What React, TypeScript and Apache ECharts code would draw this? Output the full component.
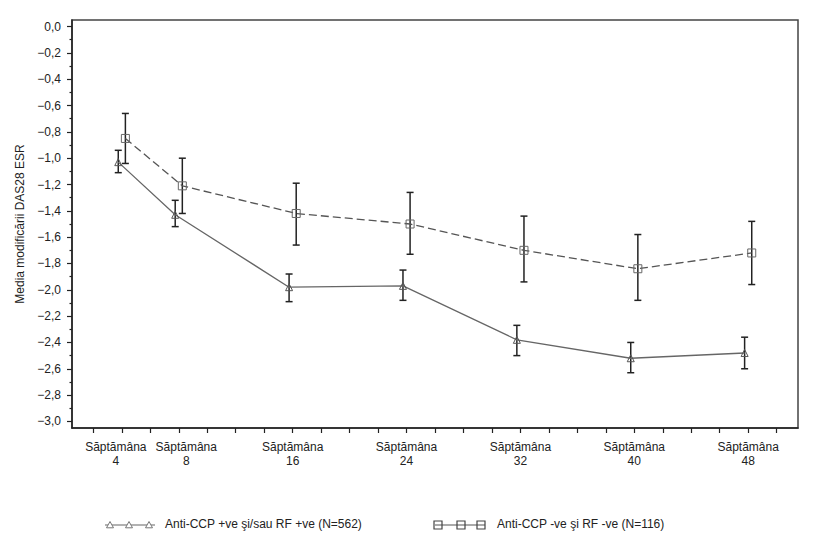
import React, { useEffect, useRef } from "react";
import * as echarts from "echarts";

const weeks = [4, 8, 16, 24, 32, 40, 48];
const labelWeeksA = [4, 16, 32, 48];
const labelWeeksB = [8, 24, 40];
const tickWeeks = [2, 4, 6, 8, 10, 12, 14, 16, 18, 20, 22, 24, 26, 28, 30, 32, 34, 36, 38, 40, 42, 44, 46, 48, 50];
const yMajor = [0, -0.2, -0.4, -0.6, -0.8, -1.0, -1.2, -1.4, -1.6, -1.8, -2.0, -2.2, -2.4, -2.6, -2.8, -3.0];
const yMinor = [-0.1, -0.3, -0.5, -0.7, -0.9, -1.1, -1.3, -1.5, -1.7, -1.9, -2.1, -2.3, -2.5, -2.7, -2.9];

const posName = "Anti-CCP +ve şi/sau RF +ve (N=562)";
const posMean = [-1.03, -1.43, -1.98, -1.97, -2.38, -2.52, -2.48];
const posLow = [-1.11, -1.52, -2.09, -2.08, -2.5, -2.63, -2.6];
const posHigh = [-0.94, -1.32, -1.88, -1.85, -2.27, -2.4, -2.36];

const negName = "Anti-CCP -ve şi RF -ve (N=116)";
const negMean = [-0.85, -1.21, -1.42, -1.5, -1.7, -1.84, -1.72];
const negLow = [-1.04, -1.42, -1.66, -1.73, -1.94, -2.08, -1.96];
const negHigh = [-0.66, -1.0, -1.19, -1.26, -1.44, -1.58, -1.48];

const posOffset = -0.25;
const negOffset = 0.25;

const FONT = 'Arial, "Liberation Sans", sans-serif';
const TXT = "#222";

function errorBarRender(params: any, api: any) {
  const x = api.value(0);
  const lo = api.value(1);
  const hi = api.value(2);
  const pHi = api.coord([x, hi]);
  const pLo = api.coord([x, lo]);
  const cap = 3.5;
  const style = { stroke: "#222", lineWidth: 1.5, fill: "none" };
  return {
    type: "group",
    children: [
      { type: "line", shape: { x1: pHi[0], y1: pHi[1], x2: pLo[0], y2: pLo[1] }, style },
      { type: "line", shape: { x1: pHi[0] - cap, y1: pHi[1], x2: pHi[0] + cap, y2: pHi[1] }, style },
      { type: "line", shape: { x1: pLo[0] - cap, y1: pLo[1], x2: pLo[0] + cap, y2: pLo[1] }, style },
    ],
  };
}

function triPoints(cx: number, cy: number, s: number) {
  return [
    [cx, cy - s],
    [cx - s, cy + s * 0.8],
    [cx + s, cy + s * 0.8],
  ];
}

const richBase = { color: TXT, fontSize: 12, fontFamily: FONT, lineHeight: 14 };
const xRich = {
  l: { ...richBase, padding: [0, 12, 0, 0] },
  r: { ...richBase, padding: [0, 0, 0, 15] },
  c: { ...richBase },
};
const xFmt = (v: number) => {
  const k = v === 4 ? "l" : v === 8 ? "r" : "c";
  return `{${k}|Săptămâna}\n{${k}|${v}}`;
};

export default function App() {
  const ref = useRef<HTMLDivElement>(null);

  useEffect(() => {
    document.body.style.margin = "0";
    if (!ref.current) return;
    const chart = echarts.init(ref.current, null, { renderer: "svg" });

    const posData = weeks.map((w, i) => [w + posOffset, posMean[i]]);
    const negData = weeks.map((w, i) => [w + negOffset, negMean[i]]);
    const posErr = weeks.map((w, i) => [w + posOffset, posLow[i], posHigh[i]]);
    const negErr = weeks.map((w, i) => [w + negOffset, negLow[i], negHigh[i]]);

    const legendY = 525;
    const graphic: any[] = [
      { type: "line", shape: { x1: 105, y1: legendY, x2: 155, y2: legendY }, style: { stroke: "#666", lineWidth: 1.2 } },
      ...[110, 129, 149].map((cx) => ({
        type: "polygon",
        shape: { points: triPoints(cx, legendY, 3.5) },
        style: { fill: "#fff", stroke: "#777", lineWidth: 1 },
      })),
      {
        type: "text",
        x: 165,
        y: legendY - 1,
        style: { text: posName, font: `12px ${FONT}`, fill: TXT, verticalAlign: "middle", textAlign: "left" },
      },
      { type: "line", shape: { x1: 435, y1: legendY, x2: 485, y2: legendY }, style: { stroke: "#555", lineWidth: 1.2 } },
      ...[438, 461, 481].map((cx) => ({
        type: "rect",
        shape: { x: cx - 4, y: legendY - 4, width: 8, height: 8 },
        style: { fill: "none", stroke: "#444", lineWidth: 1.2 },
      })),
      {
        type: "text",
        x: 497,
        y: legendY - 1,
        style: { text: negName, font: `12px ${FONT}`, fill: TXT, verticalAlign: "middle", textAlign: "left" },
      },
    ];

    const fmtY = (v: number) => {
      const s = Math.abs(v).toFixed(1).replace(".", ",");
      return v < -1e-9 ? "\u2212" + s : s;
    };

    const xLabelCommon = {
      formatter: xFmt,
      rich: xRich,
      color: TXT,
      fontSize: 12,
      fontFamily: FONT,
      lineHeight: 14,
      margin: 12,
      align: "center",
      hideOverlap: false,
      showMinLabel: true,
      showMaxLabel: true,
    };

    chart.setOption({
      animation: false,
      backgroundColor: "#fff",
      textStyle: { fontFamily: FONT },
      grid: {
        left: 72,
        top: 20,
        right: 20,
        bottom: 125,
        show: true,
        borderColor: "#444",
        borderWidth: 1.5,
        backgroundColor: "transparent",
      },
      xAxis: [
        {
          type: "value",
          min: 0.5,
          max: 51.5,
          position: "bottom",
          axisLine: { show: true, onZero: false, lineStyle: { color: "#222", width: 1.5 } },
          axisTick: { show: true, length: 5, customValues: tickWeeks, lineStyle: { color: "#222", width: 1.2 } },
          axisLabel: { ...xLabelCommon, customValues: labelWeeksA },
          splitLine: { show: false },
        },
        {
          type: "value",
          min: 0.5,
          max: 51.5,
          position: "bottom",
          offset: 0,
          axisLine: { show: false, onZero: false },
          axisTick: { show: false },
          axisLabel: { ...xLabelCommon, customValues: labelWeeksB },
          splitLine: { show: false },
        },
      ],
      yAxis: [
        {
          type: "value",
          min: -3.05,
          max: 0.05,
          axisLine: { show: true, onZero: false, lineStyle: { color: "#222", width: 1.5 } },
          axisTick: { show: true, length: 5, customValues: yMajor, lineStyle: { color: "#222", width: 1.2 } },
          axisLabel: {
            customValues: yMajor,
            formatter: fmtY,
            color: TXT,
            fontSize: 12,
            fontFamily: FONT,
            margin: 11,
            hideOverlap: false,
            showMinLabel: true,
            showMaxLabel: true,
          },
          splitLine: { show: false },
          name: "Media modificării DAS28 ESR",
          nameLocation: "middle",
          nameGap: 46,
          nameRotate: 90,
          nameTextStyle: { color: TXT, fontSize: 12, fontFamily: FONT },
        },
        {
          type: "value",
          min: -3.05,
          max: 0.05,
          position: "left",
          axisLine: { show: false },
          axisTick: { show: true, length: 2.5, customValues: yMinor, lineStyle: { color: "#222", width: 1.2 } },
          axisLabel: { show: false },
          splitLine: { show: false },
        },
      ],
      series: [
        {
          type: "custom",
          name: "posErr",
          renderItem: errorBarRender,
          data: posErr,
          encode: { x: 0, y: [1, 2] },
          z: 3,
        },
        {
          type: "custom",
          name: "negErr",
          renderItem: errorBarRender,
          data: negErr,
          encode: { x: 0, y: [1, 2] },
          z: 3,
        },
        {
          type: "line",
          name: posName,
          data: posData,
          symbol: "triangle",
          symbolSize: 7,
          lineStyle: { color: "#666", width: 1.3, type: "solid" },
          itemStyle: { color: "rgba(255,255,255,0)", borderColor: "#555", borderWidth: 1 },
          z: 4,
        },
        {
          type: "line",
          name: negName,
          data: negData,
          symbol: "rect",
          symbolSize: 8,
          lineStyle: { color: "#555", width: 1.3, type: [8, 4] },
          itemStyle: { color: "rgba(255,255,255,0)", borderColor: "#666", borderWidth: 1 },
          z: 4,
        },
      ],
      graphic,
    });

    return () => chart.dispose();
  }, []);

  return <div ref={ref} style={{ width: 818, height: 553 }} />;
}
